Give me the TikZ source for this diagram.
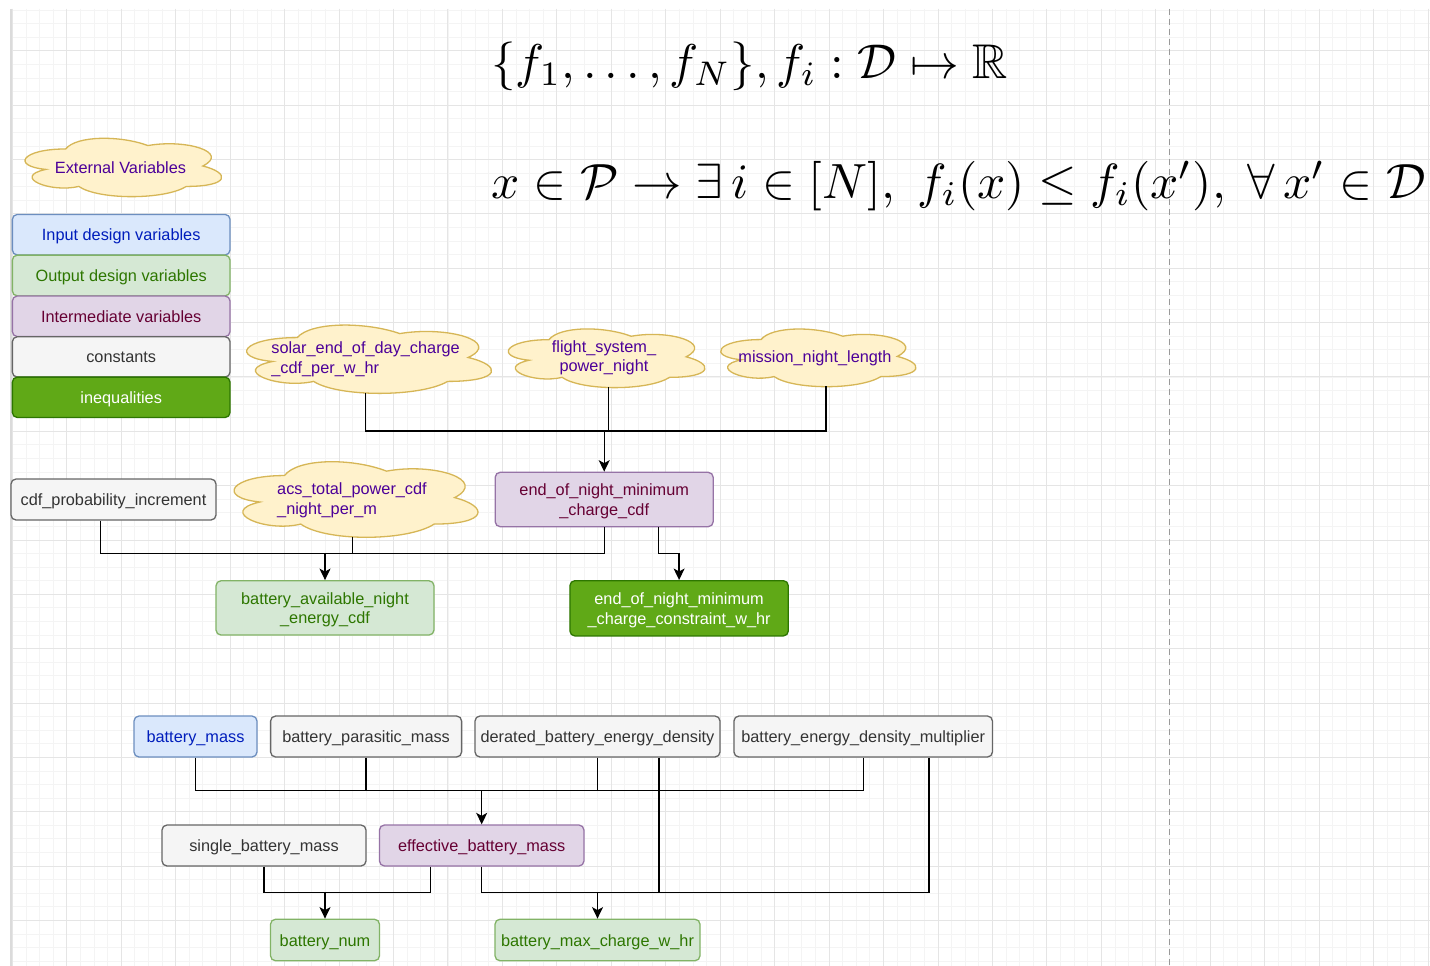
\documentclass[tikz,border=0pt]{standalone}
\usepackage[no-math]{fontspec}
\usepackage{amssymb}
\usetikzlibrary{arrows.meta,calc}
\newfontfamily\dsans{Liberation Sans}
\definecolor{inFill}{HTML}{DAE8FC}\definecolor{inDraw}{HTML}{6C8EBF}\definecolor{inText}{HTML}{001DBC}
\definecolor{outFill}{HTML}{D5E8D4}\definecolor{outDraw}{HTML}{82B366}\definecolor{outText}{HTML}{2D7600}
\definecolor{midFill}{HTML}{E1D5E7}\definecolor{midDraw}{HTML}{9673A6}\definecolor{midText}{HTML}{660033}
\definecolor{conFill}{HTML}{F5F5F5}\definecolor{conDraw}{HTML}{666666}\definecolor{conText}{HTML}{333333}
\definecolor{ineqFill}{HTML}{60A917}\definecolor{ineqDraw}{HTML}{2D7600}
\definecolor{cloudFill}{HTML}{FFF2CC}\definecolor{cloudDraw}{HTML}{D6B656}\definecolor{cloudText}{HTML}{4C0099}
\definecolor{gridMinor}{HTML}{F4F4F4}\definecolor{gridMajor}{HTML}{E5E5E5}
\pgfdeclarelayer{gridl}\pgfdeclarelayer{cloudl}
\pgfsetlayers{gridl,cloudl,main}
\newcommand\drawcloud[5]{%
 \begin{pgfonlayer}{cloudl}
 \begin{scope}[shift={(#1.center)}, shift={(#2,#3)}, x=#4pt, y=-#5pt, shift={(-0.5,-0.5)}]
 \draw[cloudline] (0.25,0.25) .. controls (0.05,0.25) and (0,0.5) .. (0.16,0.55)
  .. controls (0,0.66) and (0.18,0.9) .. (0.31,0.8)
  .. controls (0.4,1) and (0.7,1) .. (0.8,0.8)
  .. controls (1,0.8) and (1,0.6) .. (0.875,0.5)
  .. controls (1,0.3) and (0.8,0.1) .. (0.625,0.2)
  .. controls (0.5,0.05) and (0.3,0.05) .. (0.25,0.25) -- cycle;
 \coordinate (#1-b) at (0.5,0.945);
 \end{scope}
 \end{pgfonlayer}}
\tikzset{
 txt/.style={font=\dsans\fontsize{16.3pt}{19.5pt}\selectfont, text height=15pt, text depth=3pt},
 twoline/.style={text height=34.5pt, text depth=3pt},
 box/.style={txt, draw, rounded corners=5pt, line width=1.3pt, inner sep=0pt, align=center},
 inbox/.style={box, fill=inFill, draw=inDraw, text=inText},
 outbox/.style={box, fill=outFill, draw=outDraw, text=outText},
 midbox/.style={box, fill=midFill, draw=midDraw, text=midText},
 conbox/.style={box, fill=conFill, draw=conDraw, text=conText},
 ineqbox/.style={box, fill=ineqFill, draw=ineqDraw, text=white},
 cloudtxt/.style={txt, text=cloudText, inner sep=0pt},
 cloudline/.style={fill=cloudFill, draw=cloudDraw, line width=1.3pt},
 conn/.style={draw=black, line width=1.4pt},
 arr/.style={conn, -{Stealth[length=11.5pt,width=11pt,inset=3pt]}},
 gminor/.style={draw=gridMinor, line width=0.8pt},
 gmajor/.style={draw=gridMajor, line width=0.9pt},
}
\begin{document}
\begin{tikzpicture}[x=1pt,y=-1pt]
\useasboundingbox (0,0) rectangle (1430,966);
\begin{pgfonlayer}{gridl}
\fill[white] (0,0) rectangle (1430,966);
\foreach \i in {0,...,104}{\draw[gminor] ({12.3+13.6125*\i},9) -- ({12.3+13.6125*\i},966);}
\foreach \j in {0,...,70}{\draw[gminor] (12,{10.04+13.5875*\j}) -- (1430,{10.04+13.5875*\j});}
\foreach \i in {0,...,26}{\draw[gmajor] ({12.3+54.45*\i},9) -- ({12.3+54.45*\i},966);}
\foreach \j in {0,...,16}{\draw[gmajor] (12,{50.8+54.35*\j}) -- (1430,{50.8+54.35*\j});}
\draw[draw=black!14, line width=2pt] (11,9) -- (11,966);
\draw[draw=black!40, line width=1pt, dash pattern=on 6pt off 4pt] (1169.3,9) -- (1169.3,966);
\end{pgfonlayer}

% formulas
\node[anchor=base west, inner sep=0pt] (fml1) at (491.4,78.3)
 {\resizebox{516pt}{!}{$\{f_1,\ldots,f_N\}, f_i:\mathcal{D}\mapsto\mathbb{R}$}};
\node[anchor=base west, inner sep=0pt] (fml2) at (491.4,198.3)
 {\resizebox{934pt}{!}{$x\in\mathcal{P}\rightarrow\exists\, i\in[N],\; f_i(x)\leq f_i(x'),\;\forall\, x'\in\mathcal{D}$}};

% legend
\node[cloudtxt] (lext) at (120.5,167) {External Variables};
\drawcloud{lext}{0}{-1}{219.5}{68.1}
\node[inbox, minimum width=217.7pt, minimum height=40.6pt] (lin) at (121.2,234.7) {Input design variables};
\node[outbox, minimum width=217.7pt, minimum height=40.8pt] (lout) at (121.2,275.5) {Output design variables};
\node[midbox, minimum width=217.7pt, minimum height=40.6pt] (lmid) at (121.2,316.3) {Intermediate variables};
\node[conbox, minimum width=217.7pt, minimum height=40.4pt] (lcon) at (121.2,356.9) {constants};
\node[ineqbox, minimum width=217.7pt, minimum height=40.4pt] (lineq) at (121.2,397.3) {inequalities};

% external clouds row 1
\node[cloudtxt, twoline, align=left] (solar) at (365.6,357.5) {solar\_end\_of\_day\_charge\\\_cdf\_per\_w\_hr};
\drawcloud{solar}{0}{0}{273.4}{79.7}
\node[cloudtxt, twoline, align=center] (flight) at (604,356.2) {flight\_system\_\\power\_night};
\drawcloud{flight}{-0.2}{0.6}{219.5}{68.5}
\node[cloudtxt] (mission) at (815,356.7) {mission\_night\_length};
\drawcloud{mission}{0.5}{-0.3}{218}{67.3}

% row 2
\node[conbox, minimum width=205pt, minimum height=41pt] (cdf) at (113.5,499.5) {cdf\_probability\_increment};
\node[cloudtxt, twoline, align=left] (acs) at (352,498.7) {acs\_total\_power\_cdf\\\_night\_per\_m};
\drawcloud{acs}{0.5}{-1.1}{272.3}{88.2}
\node[midbox, twoline, minimum width=218pt, minimum height=54.4pt] (eonm) at (604.2,499.5) {end\_of\_night\_minimum\\\_charge\_cdf};
\node[outbox, twoline, minimum width=218pt, minimum height=54.3pt] (bav) at (325,607.9) {battery\_available\_night\\\_energy\_cdf};
\node[ineqbox, twoline, minimum width=218.4pt, minimum height=55.3pt] (cons) at (679.1,608.3) {end\_of\_night\_minimum\\\_charge\_constraint\_w\_hr};

% row 3
\node[inbox, minimum width=123pt, minimum height=41pt] (bm) at (195.5,736.5) {battery\_mass};
\node[conbox, minimum width=191pt, minimum height=41pt] (bpm) at (366.1,736.5) {battery\_parasitic\_mass};
\node[conbox, minimum width=245pt, minimum height=41pt] (der) at (597.5,736.5) {derated\_battery\_energy\_density};
\node[conbox, minimum width=258.5pt, minimum height=41pt] (mult) at (863.2,736.5) {battery\_energy\_density\_multiplier};
\node[conbox, minimum width=204pt, minimum height=41pt] (single) at (264,845.5) {single\_battery\_mass};
\node[midbox, minimum width=204.5pt, minimum height=41pt] (eff) at (481.7,845.5) {effective\_battery\_mass};
\node[outbox, minimum width=109pt, minimum height=41.5pt] (bnum) at (325,940) {battery\_num};
\node[outbox, minimum width=205pt, minimum height=41.5pt] (maxc) at (597.5,940) {battery\_max\_charge\_w\_hr};

% buses
\coordinate (bus1) at (0,431);
\coordinate (bus2) at (0,553.3);
\coordinate (bus3) at (0,790.7);
\coordinate (bus4) at (0,892.7);

% connectors row 1
\draw[conn] (solar-b) |- (bus1 -| eonm.north);
\draw[conn] ([xshift=4.5pt]flight-b) |- (bus1 -| eonm.north);
\draw[conn] ([xshift=10.5pt]mission-b) |- (bus1 -| eonm.north);
\draw[arr] (bus1 -| eonm.north) -- (eonm.north);

% connectors row 2
\draw[conn] ([xshift=-13pt]cdf.south) |- (bus2 -| bav.north);
\draw[conn] (acs-b) -- (bus2 -| acs-b);
\draw[conn] (eonm.south) |- (bus2 -| bav.north);
\draw[arr] (bus2 -| bav.north) -- (bav.north);
\draw[arr] ([xshift=54.5pt]eonm.south) |- (bus2 -| cons.north) -- (cons.north);

% connectors row 3
\draw[conn] (bm.south) |- (bus3 -| eff.north);
\draw[conn] (bpm.south) -- (bus3 -| bpm.south);
\draw[conn] (der.south) -- (bus3 -| der.south);
\draw[conn] (mult.south) |- (bus3 -| eff.north);
\draw[arr] (bus3 -| eff.north) -- (eff.north);

\draw[conn] (single.south) |- (bus4 -| bnum.north);
\draw[conn] ([xshift=-51pt]eff.south) |- (bus4 -| bnum.north);
\draw[arr] (bus4 -| bnum.north) -- (bnum.north);

\draw[conn] (eff.south) |- (bus4 -| maxc.north);
\draw[conn] ([xshift=61.5pt]der.south) |- (bus4 -| maxc.north);
\draw[conn] ([xshift=65.8pt]mult.south) |- (bus4 -| maxc.north);
\draw[arr] (bus4 -| maxc.north) -- (maxc.north);
\end{tikzpicture}
\end{document}
